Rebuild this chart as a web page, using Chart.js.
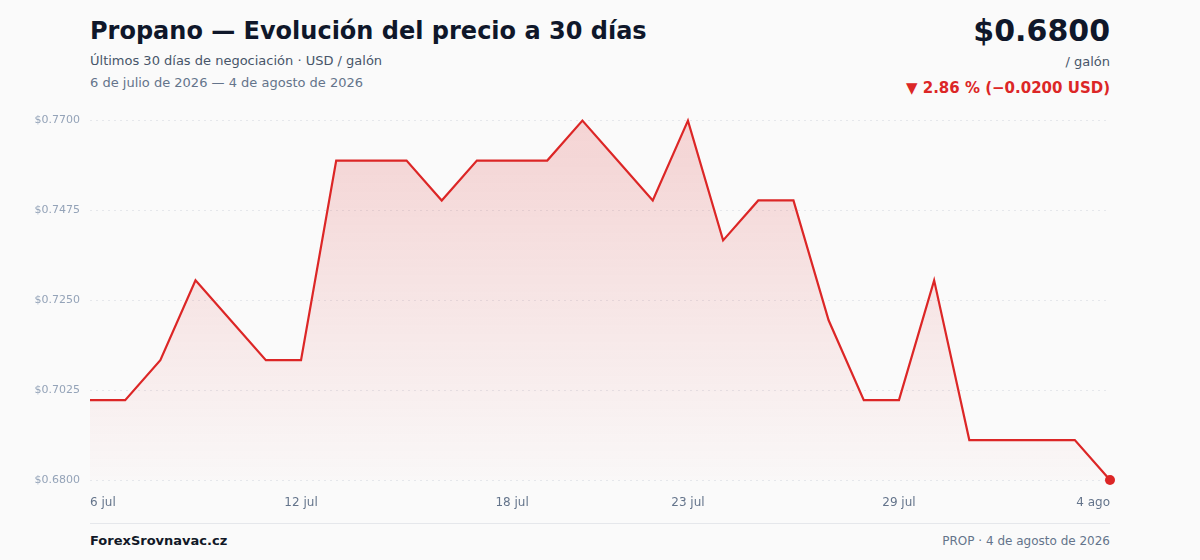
<!DOCTYPE html>
<html lang="es">
<head>
<meta charset="utf-8">
<script src="https://cdn.jsdelivr.net/npm/chart.js@4"></script>
<style>
  body { margin: 0; background: #fafafa; font-family: "DejaVu Sans", sans-serif; }
  #wrap { position: relative; width: 1200px; height: 560px; overflow: hidden; }
  .abs { position: absolute; white-space: nowrap; }
  #title { left: 90px; top: 17px; font-size: 24px; font-weight: bold; color: #0f172a; }
  #sub { left: 90px; top: 53px; font-size: 13px; color: #475569; }
  #range { left: 90px; top: 75px; font-size: 13px; color: #64748b; }
  #price { right: 90px; top: 13px; font-size: 30px; font-weight: bold; color: #0f172a; }
  #unit { right: 90px; top: 54px; font-size: 13px; color: #475569; }
  #chg { right: 90px; top: 79px; font-size: 15px; font-weight: bold; color: #dc2626; }
  #sep { left: 90px; top: 523px; width: 1020px; height: 1px; background: #e5e7eb; }
  #brand { left: 90px; top: 533px; font-size: 13px; font-weight: bold; color: #111827; }
  #src { right: 90px; top: 534px; font-size: 12px; color: #64748b; }
  #box { position: absolute; left: 20px; top: 104px; width: 1100px; height: 411px; }
</style>
</head>
<body>
<div id="wrap">
  <div class="abs" id="title">Propano — Evolución del precio a 30 días</div>
  <div class="abs" id="sub">Últimos 30 días de negociación · USD / galón</div>
  <div class="abs" id="range">6 de julio de 2026 — 4 de agosto de 2026</div>
  <div class="abs" id="price">$0.6800</div>
  <div class="abs" id="unit">/ galón</div>
  <div class="abs" id="chg">▼ 2.86 % (−0.0200 USD)</div>
  <div id="box"><canvas id="chart"></canvas></div>
  <div class="abs" id="sep"></div>
  <div class="abs" id="brand">ForexSrovnavac.cz</div>
  <div class="abs" id="src">PROP · 4 de agosto de 2026</div>
</div>
<script>
// 30 calendar days, 6 jul .. 4 ago
const days = [
  '6 jul', '7 jul', '8 jul', '9 jul', '10 jul', '11 jul', '12 jul', '13 jul', '14 jul', '15 jul',
  '16 jul', '17 jul', '18 jul', '19 jul', '20 jul', '21 jul', '22 jul', '23 jul', '24 jul', '25 jul',
  '26 jul', '27 jul', '28 jul', '29 jul', '30 jul', '31 jul', '1 ago', '2 ago', '3 ago', '4 ago'
];
const prices = [
  0.7000, 0.7000, 0.7100, 0.7300, 0.7200, 0.7100, 0.7100, 0.7600, 0.7600, 0.7600,
  0.7500, 0.7600, 0.7600, 0.7600, 0.7700, 0.7600, 0.7500, 0.7700, 0.7400, 0.7500,
  0.7500, 0.7200, 0.7000, 0.7000, 0.7300, 0.6900, 0.6900, 0.6900, 0.6900, 0.6800
];
const shownDays = [0, 6, 12, 17, 23, 29];   // which x labels are printed
const yTicks = [0.6800, 0.7025, 0.7250, 0.7475, 0.7700];

const red = '#dc2626';
const last = prices.length - 1;

const ctx = document.getElementById('chart').getContext('2d');

const chart = new Chart(ctx, {
  type: 'line',
  data: {
    labels: days,
    datasets: [{
      data: prices,
      borderColor: red,
      borderWidth: 2.2,
      tension: 0,
      fill: 'start',
      backgroundColor: (c) => {
        const area = c.chart.chartArea;
        if (!area) return 'rgba(220,38,38,0.1)';
        const g = c.chart.ctx.createLinearGradient(0, area.top, 0, area.bottom);
        g.addColorStop(0, 'rgba(220,38,38,0.18)');
        g.addColorStop(1, 'rgba(220,38,38,0.01)');
        return g;
      },
      pointRadius: (c) => c.dataIndex === last ? 5 : 0,
      pointHoverRadius: 0,
      pointBackgroundColor: red,
      pointBorderWidth: 0,
      clip: false
    }]
  },
  options: {
    responsive: true,
    maintainAspectRatio: false,
    animation: false,
    layout: { padding: { top: 16, right: 10, left: 0, bottom: 0 } },
    plugins: { legend: { display: false }, tooltip: { enabled: false } },
    scales: {
      x: {
        offset: false,
        border: { display: false },
        grid: { display: false },
        afterFit: (s) => { s.height = 35; },
        ticks: {
          autoSkip: false,
          maxRotation: 0,
          align: 'inner',
          padding: 8,
          color: '#64748b',
          font: { family: 'DejaVu Sans', size: 12 },
          callback: (v, i) => shownDays.includes(i) ? days[i] : ''
        }
      },
      y: {
        min: 0.68,
        max: 0.77,
        afterFit: (s) => { s.width = 70; },
        afterBuildTicks: (s) => { s.ticks = yTicks.map(v => ({ value: v })); },
        grid: {
          color: '#e5e7eb',
          lineWidth: 1,
          drawTicks: false
        },
        border: { display: false, dash: [2, 4] },
        ticks: {
          padding: 10,
          color: '#94a3b8',
          font: { family: 'DejaVu Sans', size: 11 },
          callback: (v) => '$' + Number(v).toFixed(4)
        }
      }
    }
  }
});
</script>
</body>
</html>
